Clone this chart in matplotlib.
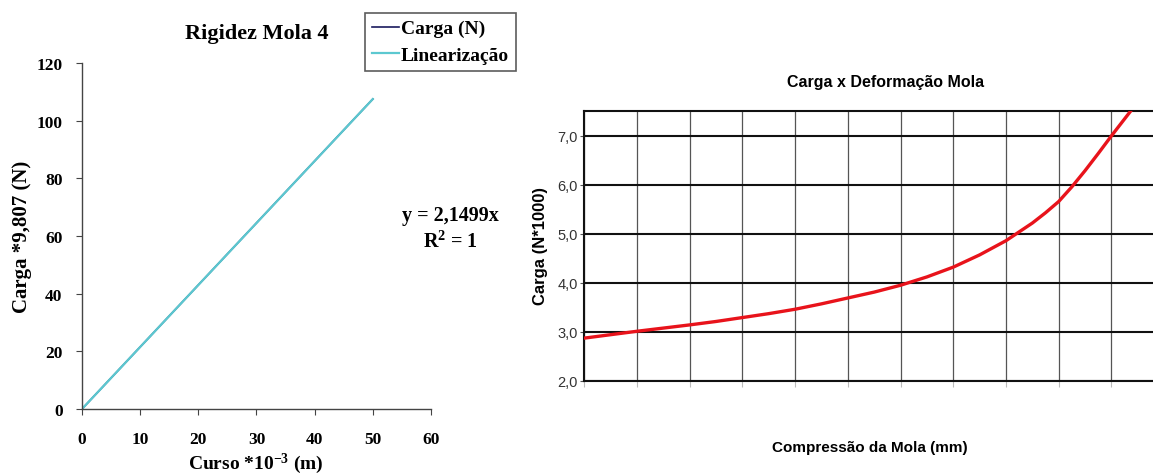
import matplotlib
matplotlib.use("Agg")
import matplotlib.pyplot as plt

plt.rcParams["mathtext.default"] = "regular"

# left chart: spring stiffness
curso = [0, 9.3, 18.6, 27.9, 37.2, 46.5, 50.0]
carga = [0, 20, 40, 60, 80, 100, 107.5]
lin_x = [0, 50.0]
lin_y = [0, 107.5]

# right chart: load x deformation curve (grid units)
comp = [0, 0.5, 1, 1.5, 2, 2.5, 3, 3.5, 4, 4.5, 5, 5.5, 6, 6.5, 7, 7.5,
        8, 8.5, 8.75, 9, 9.25, 9.5, 9.75, 10, 10.36]
carga_k = [2.87, 2.94, 3.01, 3.075, 3.14, 3.21, 3.29, 3.37, 3.46, 3.57, 3.69, 3.81,
           3.95, 4.12, 4.32, 4.57, 4.86, 5.22, 5.43, 5.66, 5.96, 6.29, 6.64, 7.0, 7.5]

serif = ["Liberation Serif", "DejaVu Serif"]
sans = ["Liberation Sans", "DejaVu Sans"]

fig = plt.figure(figsize=(11.53, 4.77), dpi=100)

# ---- left
ax1 = fig.add_axes([0.0711, 0.1405, 0.3027, 0.7253])
ax1.plot(curso, carga, color="#1a1a5e", lw=1.2, label="Carga (N)")
ax1.plot(lin_x, lin_y, color="#5cc8d0", lw=1.6, label="Linearização")
ax1.set_xlim(0, 60)
ax1.set_ylim(0, 120)
ax1.set_xticks(range(0, 61, 10))
ax1.set_yticks(range(0, 121, 20))
for s in ["top", "right"]:
    ax1.spines[s].set_visible(False)
for s in ["left", "bottom"]:
    ax1.spines[s].set_color("#444444")
    ax1.spines[s].set_linewidth(1.0)
ax1.tick_params(direction="out", length=4, color="#444444")
ax1.tick_params(axis="y", pad=10)
ax1.tick_params(axis="x", pad=12)
for lab in ax1.get_xticklabels() + ax1.get_yticklabels():
    lab.set_family(serif)
    lab.set_fontweight("bold")
    lab.set_fontsize(12.5)
ax1.set_title("Rigidez Mola 4", family=serif, fontweight="bold", fontsize=16, pad=18)
fig.text(256 / 1153, 1 - 464 / 477, "Curso *10$^{-3}$ (m)", ha="center", va="center",
         family=serif, fontweight="bold", fontsize=14)
ax1.set_ylabel("Carga *9,807 (N)", family=serif, fontweight="bold", fontsize=15, labelpad=3)
fig.text(450 / 1153, 1 - 216 / 477, "y = 2,1499x", ha="center", va="center",
         family=serif, fontweight="bold", fontsize=14.5)
fig.text(450 / 1153, 1 - 242 / 477, "R$^2$ = 1", ha="center", va="center",
         family=serif, fontweight="bold", fontsize=14.5)
leg = ax1.legend(loc="upper left", bbox_to_anchor=(365 / 1153, 1 - 14 / 477),
                 bbox_transform=fig.transFigure,
                 prop={"family": serif, "weight": "bold", "size": 14},
                 frameon=True, fancybox=False, handlelength=1.4, handletextpad=0.1,
                 borderpad=0.35, labelspacing=0.45, borderaxespad=0)
leg.get_frame().set_edgecolor("#333333")
leg.get_frame().set_linewidth(1.2)

# ---- right
ax2 = fig.add_axes([0.5068, 0.1998, 0.4932, 0.5644])
ax2.plot(comp, carga_k, color="#e8131b", lw=2.4, zorder=3)
ax2.set_xlim(0, 10.79)
ax2.set_ylim(2.0, 7.5)
ax2.set_xticks(range(0, 11))
ax2.set_xticklabels([])
ax2.set_yticks([2, 3, 4, 5, 6, 7])
ax2.set_yticklabels(["2,0", "3,0", "4,0", "5,0", "6,0", "7,0"], family=sans, fontsize=10.5, color="#333333")
ax2.grid(axis="y", color="#111111", lw=1.5)
ax2.grid(axis="x", color="#555555", lw=0.9)
ax2.spines["right"].set_visible(False)
for s in ["top", "left", "bottom"]:
    ax2.spines[s].set_color("#111111")
    ax2.spines[s].set_linewidth(1.5)
ax2.tick_params(axis="y", direction="out", length=3, color="#555555", pad=1.5)
ax2.tick_params(axis="x", direction="out", length=4, color="#bbbbbb")
fig.text(886 / 1153, 1 - 82 / 477, "Carga x Deformação Mola", ha="center", va="center",
         family=sans, fontweight="bold", fontsize=11.5)
fig.text(870 / 1153, 1 - 448 / 477, "Compressão da Mola (mm)", ha="center", va="center",
         family=sans, fontweight="bold", fontsize=11)
fig.text(540 / 1153, 1 - 246 / 477, "Carga (N*1000)", ha="center", va="center", rotation=90,
         family=sans, fontweight="bold", fontsize=12)

fig.savefig("out.png", dpi=100)
